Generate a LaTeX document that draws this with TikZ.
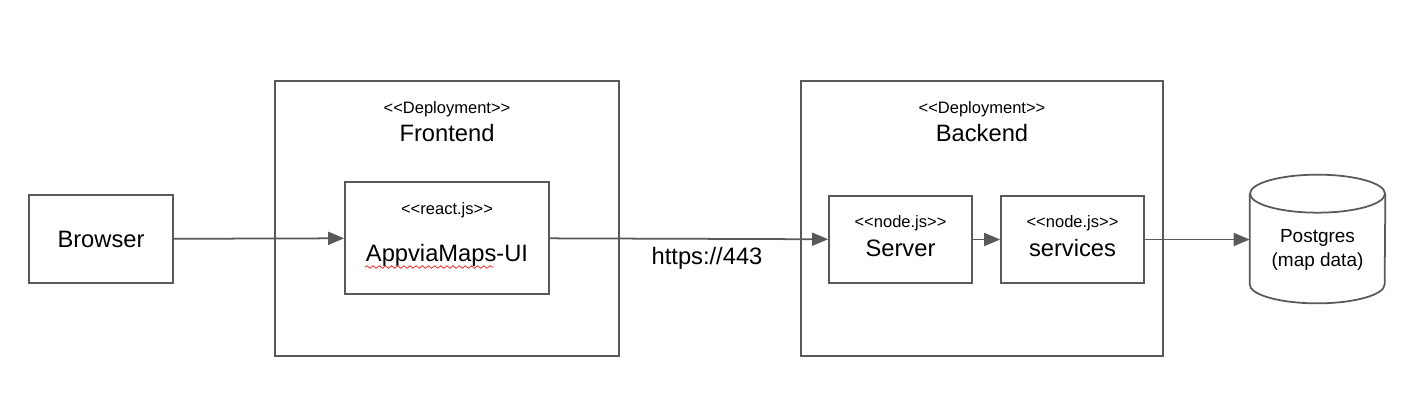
\documentclass[tikz,border=0pt]{standalone}
\usepackage{fontspec}
\setmainfont{Liberation Sans}
\usetikzlibrary{positioning,arrows.meta,decorations.pathmorphing}

\definecolor{lineColor}{RGB}{89,89,89}
\definecolor{squiggleColor}{RGB}{235,60,60}

\newcommand{\stereo}[1]{<\kern0pt<#1>\kern0pt>}

\tikzset{
  compBox/.style={draw=lineColor, line width=1pt, minimum width=2.86cm, minimum height=1.74cm, inner sep=0pt},
  bigText/.style={font=\fontsize{13.5}{16}\selectfont, inner sep=0pt},
  stereoText/.style={font=\fontsize{9.4}{11}\selectfont, inner sep=0pt},
  flow/.style={draw=lineColor, line width=1pt, -{Triangle[length=0.32cm, width=0.26cm]}}
}

\begin{document}
\begin{tikzpicture}[x=0.02cm, y=-0.02cm]
  \useasboundingbox (0,0) rectangle (1412,413);
  % Deployments
  \node[compBox, minimum width=6.88cm, minimum height=5.5cm] (frontend) at (447,218.5) {};
  \node[stereoText] (frontendTag) at (447,109) {\stereo{Deployment}};
  \node[bigText] (frontendName) at (447,133) {Frontend};
  \node[compBox, minimum width=7.24cm, minimum height=5.5cm] (backend) at (982,218.5) {};
  \node[stereoText] (backendTag) at (982,109) {\stereo{Deployment}};
  \node[bigText] (backendName) at (982,133) {Backend};
  % Components
  \node[compBox, minimum width=2.88cm, minimum height=1.76cm, bigText] (browser) at (101,239) {Browser};
  \node[compBox, minimum width=4.08cm, minimum height=2.24cm] (ui) at (447,238) {};
  \node[stereoText] (uiTag) at (447,210) {\stereo{react.js}};
  \node[bigText] (uiName) at (447,255) {AppviaMaps-UI};
  \draw[squiggleColor, line width=0.5pt, decorate, decoration={snake, amplitude=0.7pt, segment length=3.5pt}] (365,267) -- (494,267);
  \node[compBox] (server) at (900.5,239.5) {};
  \node[stereoText] (serverTag) at (900.5,223) {\stereo{node.js}};
  \node[bigText] (serverName) at (900.5,248) {Server};
  \node[compBox] (services) at (1072.5,239.5) {};
  \node[stereoText] (servicesTag) at (1072.5,223) {\stereo{node.js}};
  \node[bigText] (servicesName) at (1072.5,248) {services};
  % Database
  \node[minimum width=2.7cm, minimum height=2.56cm, inner sep=0pt] (pg) at (1317.5,239) {};
  \draw[lineColor, line width=1pt] ([yshift=-0.38cm]pg.north) ellipse[x radius=1.35cm, y radius=0.38cm];
  \draw[lineColor, line width=1pt] ([yshift=-0.38cm]pg.north west) -- ([yshift=0.38cm]pg.south west)
    arc[start angle=180, end angle=360, x radius=1.35cm, y radius=0.38cm] -- ([yshift=-0.38cm]pg.north east);
  \node[align=center, inner sep=0pt, font=\fontsize{10.8}{13.6}\selectfont] (pgName) at (1317.5,250) {Postgres\\(map data)};
  % Connections
  \draw[flow] (browser) -- (ui);
  \draw[flow] (ui) -- (server);
  \draw[flow] (server) -- (services);
  \draw[flow] (services) -- (services -| pg.west);
  \node[bigText] (port) at (707,258) {https://443};
\end{tikzpicture}
\end{document}
